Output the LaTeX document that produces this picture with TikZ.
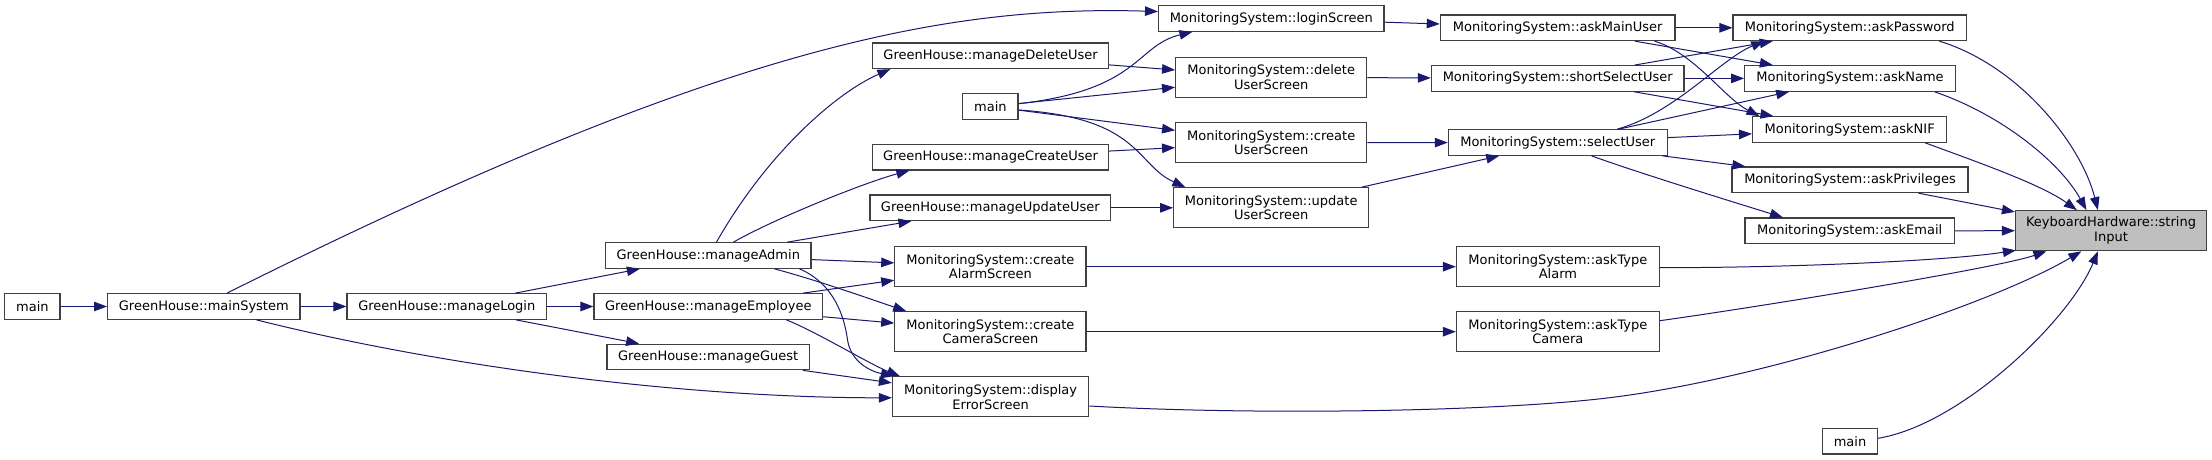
\documentclass[tikz,border=0pt]{standalone}
\usepackage{fontspec}
\setmainfont{DejaVu Sans}
\usetikzlibrary{arrows.meta,calc}
\definecolor{edgec}{HTML}{191970}
\definecolor{boxc}{HTML}{404040}
\definecolor{rootc}{HTML}{BFBFBF}
\newcommand\bx[7][]{\node[box,#1,minimum width=#5pt,minimum height=#6pt] (#2) at (#3,#4) {#7};}
\begin{document}
\begin{tikzpicture}[x=1pt,y=-1pt,
  box/.style={draw=boxc,line width=1.2pt,fill=white,inner sep=0pt,align=center,
    font=\fontsize{13}{14.7}\selectfont},
  e/.style={draw=edgec,line width=1pt,-{Triangle[length=13pt,width=9.5pt]}}]
\fill[white] (0,0) rectangle (2212,460);
\useasboundingbox (0,0) rectangle (2212,460);
% nodes
\bx{mainL}{32.4}{306.5}{55.3}{25.5}{main}
\bx{mainSys}{203.8}{306.5}{192.4}{25.5}{GreenHouse::mainSystem}
\bx{mLogin}{446.8}{306.5}{199.5}{25.5}{GreenHouse::manageLogin}
\bx{mAdmin}{708.3}{255.5}{205.5}{25.5}{GreenHouse::manageAdmin}
\bx{mEmp}{708.3}{306.5}{228.6}{25.5}{GreenHouse::manageEmployee}
\bx{mGuest}{708.2}{357}{202.4}{25.5}{GreenHouse::manageGuest}
\bx{mDel}{990.6}{55.8}{236}{25.5}{GreenHouse::manageDeleteUser}
\bx{mainM}{990.4}{106.5}{55.3}{25.5}{main}
\bx{mCre}{990.6}{157.2}{236}{25.5}{GreenHouse::manageCreateUser}
\bx{mUpd}{990.3}{207.8}{240.5}{25.5}{GreenHouse::manageUpdateUser}
\bx{cAlarm}{990.4}{266.7}{191.2}{40}{MonitoringSystem::create\\AlarmScreen}
\bx{cCam}{990.4}{331.7}{191.2}{40}{MonitoringSystem::create\\CameraScreen}
\bx{err}{990.6}{396.8}{196.3}{40}{MonitoringSystem::display\\ErrorScreen}
\bx{login}{1271.3}{18.5}{225.4}{25.5}{MonitoringSystem::loginScreen}
\bx{delU}{1271.2}{77.3}{191.1}{40}{MonitoringSystem::delete\\UserScreen}
\bx{creU}{1271.2}{142.7}{191.1}{40}{MonitoringSystem::create\\UserScreen}
\bx{updU}{1271.2}{207.8}{195}{40}{MonitoringSystem::update\\UserScreen}
\bx{askMain}{1557.7}{27.8}{234.7}{25.5}{MonitoringSystem::askMainUser}
\bx{shortSel}{1557.7}{78.4}{252.6}{25.5}{MonitoringSystem::shortSelectUser}
\bx{selU}{1557.8}{142.5}{218.9}{25.5}{MonitoringSystem::selectUser}
\bx{tAlarm}{1557.9}{266.7}{202.9}{40}{MonitoringSystem::askType\\Alarm}
\bx{tCam}{1557.9}{331.7}{202.9}{40}{MonitoringSystem::askType\\Camera}
\bx{aPass}{1849.8}{27.8}{233.5}{25.5}{MonitoringSystem::askPassword}
\bx{aName}{1850}{78.4}{210.6}{25.5}{MonitoringSystem::askName}
\bx{aNIF}{1849.7}{129.5}{194.2}{25.5}{MonitoringSystem::askNIF}
\bx{aPriv}{1850}{179.8}{235.9}{25.5}{MonitoringSystem::askPrivileges}
\bx{aEmail}{1849.7}{230.8}{209.3}{25.5}{MonitoringSystem::askEmail}
\bx{mainR}{1850}{441.3}{54.6}{25.5}{main}
\bx[fill=rootc]{sInput}{2111}{230.7}{191}{40}{KeyboardHardware::string\\Input}
% straight edges
\draw[e] (mainL) -- (mainSys);
\draw[e] (mainSys) -- (mLogin);
\draw[e] (mLogin) -- (mAdmin);
\draw[e] (mLogin) -- (mEmp);
\draw[e] (mLogin) -- (mGuest);
\draw[e] (mAdmin) -- (mUpd);
\draw[e] (mAdmin) -- (cAlarm);
\draw[e] (mEmp) -- (cAlarm);
\draw[e] (mEmp) -- (cCam);
\draw[e] (mGuest) -- (err);
\draw[e] (mDel) -- (delU);
\draw[e] (mainM) -- (delU);
\draw[e] (mainM) -- (creU);
\draw[e] (mCre) -- (creU);
\draw[e] (mUpd) -- (updU);
\draw[e] (login) -- (askMain);
\draw[e] (delU) -- (shortSel);
\draw[e] (creU) -- (selU);
\draw[e] (updU) -- (selU);
\draw[e] (cAlarm) -- (tAlarm);
\draw[e] (cCam) -- (tCam);
\draw[e] (askMain) -- (aPass);
\draw[e] (askMain) -- (aName);
\draw[e] (shortSel) -- (aPass);
\draw[e] (shortSel) -- (aName);
\draw[e] (shortSel) -- (aNIF);
\draw[e] (selU) -- (aName);
\draw[e] (selU) -- (aNIF);
\draw[e] (selU) -- (aPriv);
\draw[e] (aPriv) -- (sInput);
\draw[e] (aEmail) -- (sInput);
% curved edges
\draw[e] ($(mainSys.north west)+(120,0)$) .. controls +(500,-250) and +(-208,-6) .. ($(login.west)+(0,-7)$);
\draw[e] ($(mainSys.south west)+(149.4,0)$) .. controls +(183,46) and +(-212,0) .. ($(err.west)+(0,1)$);
\draw[e] ($(mAdmin.north west)+(111.5,0)$) .. controls +(53,-93) and +(-51,22) .. ($(mDel.south west)+(18.4,0)$);
\draw[e] ($(mAdmin.north west)+(128.5,0)$) .. controls +(40,-23) and +(-45,12) .. ($(mCre.south west)+(37.4,0)$);
\draw[e] ($(mAdmin.south west)+(169.5,0)$) .. controls +(45,12) and +(-30,-10) .. ($(cCam.north west)+(12,0)$);
\draw[e] ($(mAdmin.south west)+(194.5,0)$) .. controls +(35,15) and +(-3,-22) .. ($(err.north west)+(-44.4,-36.8)$) .. controls +(3,22) and +(-24,-5) .. ($(err.north west)+(2,0)$);
\draw[e] ($(mEmp.south west)+(193,0)$) .. controls +(30,12) and +(-30,-12) .. ($(err.north west)+(8,0)$);
\draw[e] ($(mainM.east)+(0,-2.8)$) .. controls +(122,-13.7) and +(-57,13.7) .. ($(login.south west)+(34.4,0)$);
\draw[e] ($(mainM.east)+(0,3.5)$) .. controls +(122,8) and +(-50,-22.7) .. ($(updU.north west)+(12.3,0)$);
\draw[e] ($(err.east)+(0,9.2)$) .. controls +(161,9) and +(-120,13.2) .. ($(sInput.south west)+(-415.5,147.6)$) .. controls +(160,-17.6) and +(-92,54.3) .. ($(sInput.south west)+(66.5,0)$);
\draw[e] ($(selU.north west)+(169.4,0)$) .. controls +(57.3,-15.7) and +(-42.8,17.3) .. ($(aPass.south west)+(31.8,0)$);
\draw[e] ($(askMain.south west)+(214.7,0)$) .. controls +(40,12) and +(-35,-18) .. ($(aNIF.north west)+(7.4,0)$);
\draw[e] ($(selU.south west)+(143.7,0)$) .. controls +(50,18) and +(-45,-14) .. ($(aEmail.north west)+(38.5,0)$);
\draw[e] ($(aPass.south west)+(206.8,0)$) .. controls +(80,24.3) and +(-16.6,-65.7) .. ($(sInput.north west)+(83,0)$);
\draw[e] ($(aName.south west)+(190.3,0)$) .. controls +(70,24) and +(-25,-45.7) .. ($(sInput.north west)+(71.5,0)$);
\draw[e] ($(aNIF.south west)+(173.2,0)$) .. controls +(60,22) and +(-35,-25) .. ($(sInput.north west)+(62,0)$);
\draw[e] ($(tAlarm.east)+(0,1)$) .. controls +(140,0) and +(-65,10) .. ($(sInput.south west)+(1,-1)$);
\draw[e] ($(tCam.east)+(0,-11)$) .. controls +(100,-14) and +(-50,17) .. ($(sInput.south west)+(31.5,0)$);
\draw[e] ($(mainR.east)+(0,-3)$) .. controls +(82.7,-13.3) and +(-28.6,69.3) .. ($(sInput.south west)+(83,0)$);
\end{tikzpicture}
\end{document}
